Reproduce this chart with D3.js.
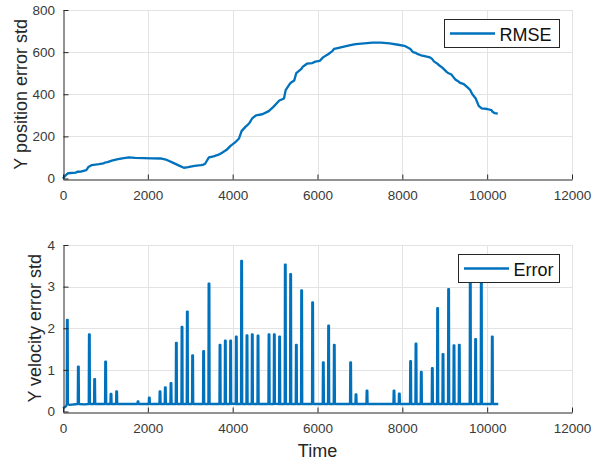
<!DOCTYPE html>
<html>
<head>
<meta charset="utf-8">
<script src="https://cdn.jsdelivr.net/npm/d3@7/dist/d3.min.js"></script>
<style>
  html, body { margin: 0; padding: 0; background: #fff; }
  svg { display: block; font-family: "Liberation Sans", Arial, Helvetica, sans-serif; }
</style>
</head>
<body>
<svg id="chart" width="594" height="463"></svg>
<script>
// ---- data ----
const xTicks = [0, 2000, 4000, 6000, 8000, 10000, 12000];
const posTicks = [0, 200, 400, 600, 800];
const velTicks = [0, 1, 2, 3, 4];

// RMSE of the Y position error over time (steps where updates arrive)
const rmseTime = [0, 60, 120, 300, 340, 420, 550, 600, 680, 850, 950, 1000, 1050, 1150, 1270, 1400, 1550,
  1700, 1900, 2100, 2300, 2450, 2600, 2750, 2850, 2950, 3100, 3250, 3310, 3350, 3440, 3550, 3650, 3700,
  3750, 3850, 3950, 4050, 4150, 4210, 4300, 4340, 4400, 4460, 4550, 4700, 4850, 4960, 5100, 5210,
  5250, 5350, 5370, 5450, 5500, 5620, 5650, 5750, 5880, 5950, 6050, 6130, 6250, 6350, 6390, 6450, 6600, 6750,
  6900, 7100, 7300, 7500, 7700, 7900, 8050, 8190, 8250, 8320, 8350, 8440, 8500, 8650, 8700, 8750, 8830, 8850, 8950,
  9050, 9090, 9150, 9210, 9250, 9340, 9350, 9450, 9550, 9600, 9650, 9730, 9800, 9870, 10000, 10100, 10120, 10180, 10250];
const rmseValue = [0, 15, 25, 28, 32, 33, 40, 55, 64, 68, 72, 76, 78, 85, 91, 96, 100,
  98, 97, 96, 95, 88, 74, 60, 51, 54, 60, 64, 66, 70, 100, 105, 112, 116,
  122, 135, 155, 170, 190, 225, 245, 252, 265, 285, 300, 305, 320, 340, 370, 380,
  420, 450, 455, 465, 500, 520, 530, 545, 548, 555, 558, 575, 590, 605, 615, 618, 625, 632,
  638, 642, 645, 645, 642, 635, 630, 615, 600, 596, 592, 585, 582, 575, 568, 555, 545, 540, 525,
  505, 500, 495, 480, 470, 458, 455, 448, 430, 420, 400, 380, 345, 333, 330, 325, 318, 310, 308];

// Y velocity error: slowly varying floor with short spikes
const velFloorLevel = 0.18;
const velBaseTime = [0, 40, 80, 150, 500, 1500, 2500, 4000, 5000, 6000, 7000, 8000, 9000, 10000, 10262];
const velBaseValue = [0.08, 0.10, 0.14, 0.16, 0.17, 0.18, 0.18, 0.19, 0.19, 0.18, 0.18, 0.18, 0.18, 0.18, 0.18];
const spikeTime = [94, 354, 613, 738, 997, 1124, 1257, 1761, 2027, 2279, 2404, 2538, 2664, 2798,
  2923, 3048, 3307, 3434, 3694, 3819, 3944, 4078, 4203, 4330, 4455, 4590, 4849, 4974, 5099,
  5233, 5359, 5493, 5618, 5877, 6129, 6254, 6388, 6773, 6900, 7159, 7796, 7921, 8187, 8314,
  8439, 8699, 8824, 8951, 9083, 9210, 9335, 9594, 9720, 9854, 10113];
const spikeValue = [2.2, 1.08, 1.85, 0.78, 1.2, 0.42, 0.48, 0.24, 0.33, 0.48, 0.58, 0.68, 1.65, 2.03,
  2.4, 1.35, 1.45, 3.07, 1.6, 1.7, 1.7, 1.8, 3.62, 1.83, 1.85, 1.82, 1.85, 1.85, 1.8,
  3.53, 3.3, 1.6, 2.91, 2.62, 1.18, 2.06, 1.6, 1.18, 0.41, 0.5, 0.5, 0.43, 1.21, 1.63,
  0.95, 1.04, 2.48, 1.38, 2.94, 1.59, 1.6, 3.4, 1.74, 3.4, 1.8];

// ---- layout ----
const blue = "#0072BD";
const axisColor = "#262626";
const gridColor = "#e3e3e3";
const svg = d3.select("#chart");

const x = d3.scaleLinear().domain([0, 12000]).range([63, 572]);
const yPos = d3.scaleLinear().domain([0, 800]).range([178.5, 10]);
const yVel = d3.scaleLinear().domain([0, 4]).range([411.5, 245]);

function drawPanel(y, yTicks, points, yLabel, labelX, legendText, legendBox) {
  const g = svg.append("g");
  const [y0, y1] = y.range();

  // grid
  g.append("g").selectAll("line").data(xTicks.slice(1)).join("line")
    .attr("x1", d => Math.round(x(d)) + 0.5).attr("x2", d => Math.round(x(d)) + 0.5)
    .attr("y1", y0).attr("y2", y1)
    .attr("stroke", gridColor).attr("stroke-width", 1);
  g.append("g").selectAll("line").data(yTicks.slice(1)).join("line")
    .attr("y1", d => Math.round(y(d)) + 0.5).attr("y2", d => Math.round(y(d)) + 0.5)
    .attr("x1", x.range()[0]).attr("x2", x.range()[1])
    .attr("stroke", gridColor).attr("stroke-width", 1);

  // data line
  const line = d3.line().x(d => x(d[0])).y(d => y(d[1]));
  g.append("path").datum(points)
    .attr("d", line)
    .attr("fill", "none")
    .attr("stroke", blue)
    .attr("stroke-width", 2.3)
    .attr("stroke-linejoin", "round");

  // axes
  const xAxis = d3.axisBottom(x).tickValues(xTicks).tickFormat(d3.format("d"))
    .tickSizeInner(-5).tickSizeOuter(0).tickPadding(11.4);
  const gx = g.append("g").attr("transform", `translate(0,${Math.round(y0) + 0.5})`).call(xAxis);
  const yAxis = d3.axisLeft(y).tickValues(yTicks).tickFormat(d3.format("d"))
    .tickSizeInner(-5).tickSizeOuter(0).tickPadding(8.5);
  const gy = g.append("g").attr("transform", `translate(${Math.round(x.range()[0]) + 0.5},0)`).call(yAxis);
  for (const ax of [gx, gy]) {
    ax.attr("font-size", 13.5).attr("font-family", null);
    ax.select(".domain").attr("stroke", axisColor);
    ax.selectAll(".tick line").attr("stroke", axisColor);
    ax.selectAll(".tick text").attr("fill", "#3a3a3a");
  }

  // y label
  g.append("text")
    .attr("transform", `translate(${labelX},${(y0 + y1) / 2}) rotate(-90)`)
    .attr("text-anchor", "middle")
    .attr("font-size", 18)
    .attr("fill", "#262626")
    .text(yLabel);

  // legend
  const lg = g.append("g");
  lg.append("rect")
    .attr("x", legendBox.x + 0.5).attr("y", legendBox.y + 0.5)
    .attr("width", legendBox.w).attr("height", legendBox.h)
    .attr("fill", "#fff").attr("stroke", axisColor).attr("stroke-width", 1);
  const ly = legendBox.y + legendBox.h / 2 + 0.5;
  lg.append("line")
    .attr("x1", legendBox.x + 6).attr("x2", legendBox.x + 51)
    .attr("y1", ly).attr("y2", ly)
    .attr("stroke", blue).attr("stroke-width", 2.5);
  lg.append("text")
    .attr("x", legendBox.x + 55.5).attr("y", legendBox.y + 21.5)
    .attr("font-size", 18).attr("fill", "#111")
    .text(legendText);
}

// top panel
const rmsePoints = rmseTime.map((t, i) => [t, rmseValue[i]]);
drawPanel(yPos, posTicks, rmsePoints, "Y position error std", 27, "RMSE",
  { x: 444, y: 19, w: 115, h: 28 });

// bottom panel: floor samples plus a narrow rise/fall for every spike
const velPoints = velBaseTime.map((t, i) => [t, velBaseValue[i]]);
spikeTime.forEach((t, i) => {
  velPoints.push([t - 6, velFloorLevel], [t, spikeValue[i]], [t + 16, spikeValue[i]], [t + 22, velFloorLevel]);
});
velPoints.sort((a, b) => a[0] - b[0]);
drawPanel(yVel, velTicks, velPoints, "Y velocity error std", 41, "Error",
  { x: 458, y: 254, w: 101, h: 28 });

// shared x label
svg.append("text")
  .attr("x", 317.5).attr("y", 456.5)
  .attr("text-anchor", "middle")
  .attr("font-size", 18)
  .attr("fill", "#262626")
  .text("Time");
</script>
</body>
</html>
